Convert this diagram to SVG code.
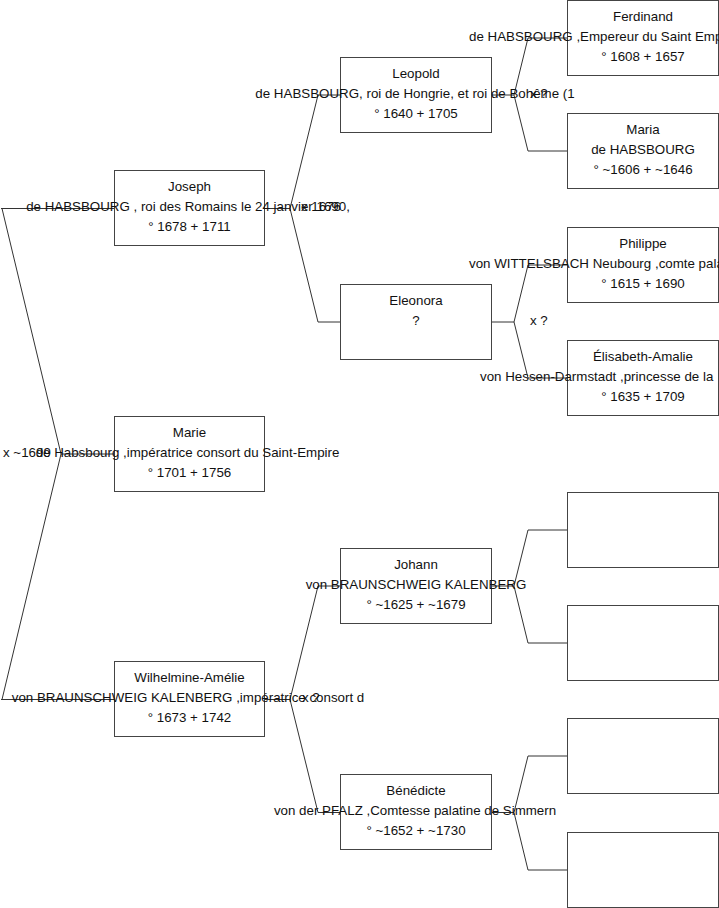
<svg xmlns="http://www.w3.org/2000/svg" width="719" height="908" viewBox="0 0 719 908">
<style>
.box{fill:#fff;stroke:#444;stroke-width:1}
.c{fill:none;stroke:#333;stroke-width:1}
text{font-family:"Liberation Sans",Arial,sans-serif;font-size:13.33px;fill:#111}
.m{text-anchor:middle}
</style>
<rect x="0" y="0" width="719" height="908" fill="#fff"/>
<g id="connectors">
<path class="c" d="M114.5,208.5 H1 M2,208.5 L61,454 L2,699.5 M1,699.5 H114.5 M61,454 H114.5"/>
<path class="c" d="M264.5,208.5 H290 L318,95 H340.5 M290,208.5 L318,322 H340.5"/>
<path class="c" d="M264.5,699.5 H290 L318,586 H340.5 M290,699.5 L318,812.5 H340.5"/>
<path class="c" d="M491.5,95 H514 L528,38 H567.5 M514,95 L528,151 H567.5"/>
<path class="c" d="M491.5,322 H514 L528,265 H567.5 M514,322 L528,378 H567.5"/>
<path class="c" d="M491.5,586 H514 L528,530 H567.5 M514,586 L528,643 H567.5"/>
<path class="c" d="M491.5,812.5 H514 L528,756 H567.5 M514,812.5 L528,870 H567.5"/>
</g>
<g id="marriage-labels">
<text x="3" y="456.5">x ~1699</text>
<text x="301" y="210.5">x 1676</text>
<text x="302" y="701.5">x ?</text>
<text x="530" y="97.5">x ?</text>
<text x="530" y="324.5">x ?</text>
</g>
<g id="ferdinand">
<rect class="box" x="567.5" y="0.5" width="151" height="75"/>
<text class="m" x="643" y="20.5">Ferdinand</text>
<text x="469" y="40.5">de HABSBOURG ,Empereur du Saint Emp</text>
<text class="m" x="643" y="60.5">° 1608 + 1657</text>
</g>
<g id="maria">
<rect class="box" x="567.5" y="113.5" width="151" height="75"/>
<text class="m" x="643" y="133.5">Maria</text>
<text class="m" x="643" y="153.5">de HABSBOURG</text>
<text class="m" x="643" y="173.5">° ~1606 + ~1646</text>
</g>
<g id="philippe">
<rect class="box" x="567.5" y="227.5" width="151" height="75"/>
<text class="m" x="643" y="247.5">Philippe</text>
<text x="469" y="267.5">von WITTELSBACH Neubourg ,comte pala</text>
<text class="m" x="643" y="287.5">° 1615 + 1690</text>
</g>
<g id="elisabeth">
<rect class="box" x="567.5" y="340.5" width="151" height="75"/>
<text class="m" x="643" y="360.5">Élisabeth-Amalie</text>
<text x="480" y="380.5">von Hessen-Darmstadt ,princesse de la</text>
<text class="m" x="643" y="400.5">° 1635 + 1709</text>
</g>
<g id="empty1"><rect class="box" x="567.5" y="492.5" width="151" height="75"/></g>
<g id="empty2"><rect class="box" x="567.5" y="605.5" width="151" height="75"/></g>
<g id="empty3"><rect class="box" x="567.5" y="718.5" width="151" height="75"/></g>
<g id="empty4"><rect class="box" x="567.5" y="832.5" width="151" height="75"/></g>
<g id="leopold">
<rect class="box" x="340.5" y="57.5" width="151" height="75"/>
<text class="m" x="416" y="77.5">Leopold</text>
<text class="m" x="415" y="97.5">de HABSBOURG, roi de Hongrie, et roi de Bohême (1</text>
<text class="m" x="416" y="117.5">° 1640 + 1705</text>
</g>
<g id="eleonora">
<rect class="box" x="340.5" y="284.5" width="151" height="75"/>
<text class="m" x="416" y="304.5">Eleonora</text>
<text class="m" x="416" y="324.5">?</text>
</g>
<g id="johann">
<rect class="box" x="340.5" y="548.5" width="151" height="75"/>
<text class="m" x="416" y="568.5">Johann</text>
<text class="m" x="416" y="588.5">von BRAUNSCHWEIG KALENBERG</text>
<text class="m" x="416" y="608.5">° ~1625 + ~1679</text>
</g>
<g id="benedicte">
<rect class="box" x="340.5" y="774.5" width="151" height="75"/>
<text class="m" x="416" y="794.5">Bénédicte</text>
<text class="m" x="415" y="814.5">von der PFALZ ,Comtesse palatine de Simmern</text>
<text class="m" x="416" y="834.5">° ~1652 + ~1730</text>
</g>
<g id="joseph">
<rect class="box" x="114.5" y="170.5" width="150" height="75"/>
<text class="m" x="189.5" y="190.5">Joseph</text>
<text class="m" x="188" y="210.5">de HABSBOURG , roi des Romains le 24 janvier 1690,</text>
<text class="m" x="189.5" y="230.5">° 1678 + 1711</text>
</g>
<g id="marie">
<rect class="box" x="114.5" y="416.5" width="150" height="75"/>
<text class="m" x="189.5" y="436.5">Marie</text>
<text class="m" x="187.5" y="456.5">de Habsbourg ,impératrice consort du Saint-Empire</text>
<text class="m" x="189.5" y="476.5">° 1701 + 1756</text>
</g>
<g id="wilhelmine">
<rect class="box" x="114.5" y="661.5" width="150" height="75"/>
<text class="m" x="189.5" y="681.5">Wilhelmine-Amélie</text>
<text class="m" x="188" y="701.5">von BRAUNSCHWEIG KALENBERG ,impératrice consort d</text>
<text class="m" x="189.5" y="721.5">° 1673 + 1742</text>
</g>
</svg>
